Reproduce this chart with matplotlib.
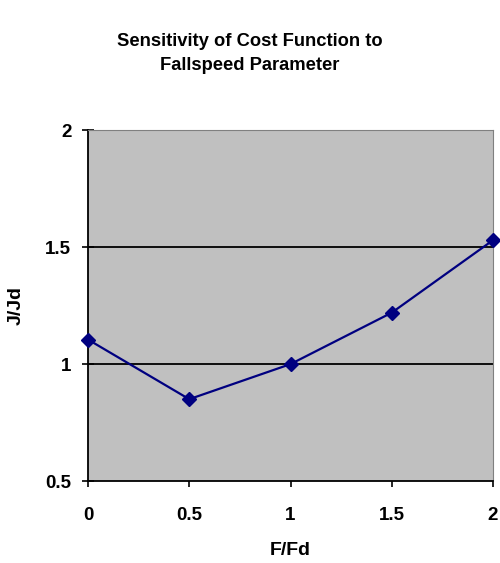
import matplotlib
matplotlib.use("Agg")
import matplotlib.pyplot as plt

x_vals = [0, 0.5, 1, 1.5, 2]
y_vals = [1.105, 0.85, 1.0, 1.22, 1.53]
x_ticks = [0, 0.5, 1, 1.5, 2]
x_tick_labels = ["0", "0.5", "1", "1.5", "2"]
y_ticks = [0.5, 1, 1.5, 2]
y_tick_labels = ["0.5", "1", "1.5", "2"]

plt.rcParams['font.family'] = ['Liberation Sans', 'DejaVu Sans']

fig = plt.figure(figsize=(5, 5.63), dpi=100)
ax = fig.add_axes([0.176, 0.1456, 0.81, 0.623])
ax.set_facecolor('#C0C0C0')
ax.plot(x_vals, y_vals, color='#000080', lw=1.6, marker='D', ms=7.5,
        markerfacecolor='#000080', markeredgecolor='#000080', zorder=3, clip_on=False)
ax.set_xlim(0, 2)
ax.set_ylim(0.5, 2)
ax.set_xticks(x_ticks)
ax.set_xticklabels(x_tick_labels, fontweight='bold', fontsize=13.5)
ax.set_yticks(y_ticks)
ax.set_yticklabels(y_tick_labels, fontweight='bold', fontsize=13.5)
for yv in [1, 1.5]:
    ax.axhline(yv, color='black', lw=1.3, zorder=1)
ax.tick_params(axis='x', direction='out', length=4, width=1.2, colors='black', pad=14.5)
ax.tick_params(axis='y', direction='inout', length=8, width=1.2, colors='black', pad=8)
ax.spines['left'].set_color('black')
ax.spines['bottom'].set_color('black')
ax.spines['left'].set_linewidth(1.3)
ax.spines['bottom'].set_linewidth(1.3)
ax.spines['top'].set_color('#808080')
ax.spines['right'].set_color('#808080')
ax.set_xlabel('F/Fd', fontweight='bold', fontsize=14)
ax.set_ylabel('J/Jd', fontweight='bold', fontsize=14)
ax.xaxis.set_label_coords(0.5, (481 - 551) / 351)
ax.xaxis.label.set_va('center')
ax.yaxis.set_label_coords((16 - 88) / 405, 0.5)
ax.yaxis.label.set_va('center')
fig.text(0.5, 1 - 41/563, 'Sensitivity of Cost Function to', ha='center', va='center',
         fontweight='bold', fontsize=13.2)
fig.text(0.5, 1 - 65/563, 'Fallspeed Parameter', ha='center', va='center',
         fontweight='bold', fontsize=13.2)
fig.savefig('out.png', dpi=100)
